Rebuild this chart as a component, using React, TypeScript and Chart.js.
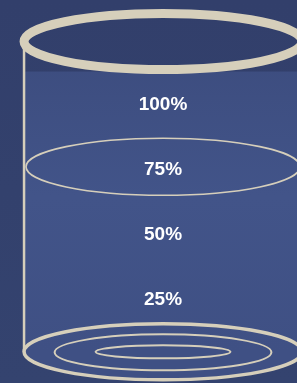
import React, { useEffect, useRef } from "react";
import { Chart, registerables } from "chart.js";

Chart.register(...registerables);

// Fill levels marked on the beaker (percent)
const levelValues = [100, 75, 50, 25];
const levelLabels = ["100%", "75%", "50%", "25%"];
// Ring drawn at these levels (besides rim and base)
const ringLevels = [75];
// Beaker geometry in value units
const rimLevel = 124;
const baseLevel = 4.5;

const BG = "#33416e";
const BODY_TOP = "#3c4c7e";
const BODY_MID = "#425489";
const BODY_BOT = "#3f5084";
const STROKE = "#d6cfbb";

const beakerPlugin = {
  id: "beaker",
  beforeDatasetsDraw(chart: any) {
    const { ctx, scales, width, height } = chart;
    const xs = scales.x;
    const ys = scales.y;
    const cx = xs.getPixelForValue(0);
    const rx = xs.getPixelForValue(1) - cx;
    const yTop = ys.getPixelForValue(rimLevel);
    const yBase = ys.getPixelForValue(baseLevel);
    const ryRim = 28;
    ctx.save();
    // page background
    const bg = ctx.createLinearGradient(0, 0, 0, height);
    bg.addColorStop(0, "#323f6b");
    bg.addColorStop(1, "#34436f");
    ctx.fillStyle = bg;
    ctx.fillRect(0, 0, width, height);
    // body fill
    const g = ctx.createLinearGradient(0, yTop, 0, yBase);
    g.addColorStop(0, BODY_TOP);
    g.addColorStop(0.5, BODY_MID);
    g.addColorStop(1, BODY_BOT);
    ctx.fillStyle = g;
    ctx.fillRect(cx - rx, yTop + ryRim + 2, rx * 2, yBase - (yTop + ryRim + 2));
    ctx.beginPath();
    ctx.ellipse(cx, yBase, rx, 28, 0, 0, Math.PI * 2);
    ctx.fill();
    // side lines
    ctx.strokeStyle = STROKE;
    ctx.lineWidth = 2.5;
    ctx.beginPath();
    ctx.moveTo(cx - rx, yTop);
    ctx.lineTo(cx - rx, yBase);
    ctx.moveTo(cx + rx, yTop);
    ctx.lineTo(cx + rx, yBase);
    ctx.stroke();
    // base ellipses
    ctx.lineWidth = 3.5;
    ctx.beginPath();
    ctx.ellipse(cx, yBase, rx, 28, 0, 0, Math.PI * 2);
    ctx.stroke();
    ctx.lineWidth = 2;
    ctx.beginPath();
    ctx.ellipse(cx, yBase + 0.5, rx * 0.78, 18, 0, 0, Math.PI * 2);
    ctx.stroke();
    ctx.beginPath();
    ctx.ellipse(cx, yBase, rx * 0.485, 6.5, 0, 0, Math.PI * 2);
    ctx.stroke();
    // level rings
    ctx.lineWidth = 1.6;
    ringLevels.forEach((lv) => {
      const y = ys.getPixelForValue(lv) - 2;
      ctx.beginPath();
      ctx.ellipse(cx, y, rx - 2, 28.5, 0, 0, Math.PI * 2);
      ctx.stroke();
    });
    // rim
    ctx.lineWidth = 9;
    ctx.beginPath();
    ctx.ellipse(cx, yTop, rx, ryRim, 0, 0, Math.PI * 2);
    ctx.stroke();
    ctx.restore();
  },
  afterDatasetsDraw(chart: any) {
    const { ctx, scales } = chart;
    const meta = chart.getDatasetMeta(0);
    ctx.save();
    ctx.fillStyle = "#ffffff";
    ctx.font = "bold 19px 'Liberation Sans', Arial, sans-serif";
    ctx.textAlign = "center";
    ctx.textBaseline = "middle";
    meta.data.forEach((pt: any, i: number) => {
      ctx.fillText(levelLabels[i], pt.x, pt.y + 1);
    });
    ctx.restore();
  },
};

export default function App() {
  const ref = useRef<HTMLCanvasElement>(null);
  useEffect(() => {
    if (!ref.current) return;
    const chart = new Chart(ref.current, {
      type: "scatter",
      data: {
        datasets: [
          {
            data: levelValues.map((v) => ({ x: 0, y: v })),
            pointRadius: 0,
            pointHoverRadius: 0,
          },
        ],
      },
      options: {
        animation: false,
        responsive: true,
        maintainAspectRatio: false,
        layout: { padding: 0 },
        plugins: { legend: { display: false }, tooltip: { enabled: false } },
        scales: {
          x: { type: "linear", min: -1.173, max: 0.964, display: false },
          y: { type: "linear", min: -7.5, max: 140, display: false },
        },
      },
      plugins: [beakerPlugin],
    });
    return () => chart.destroy();
  }, []);
  return (
    <div style={{ position: "fixed", left: 0, top: 0, width: 297, height: 383 }}>
      <canvas ref={ref} />
    </div>
  );
}
